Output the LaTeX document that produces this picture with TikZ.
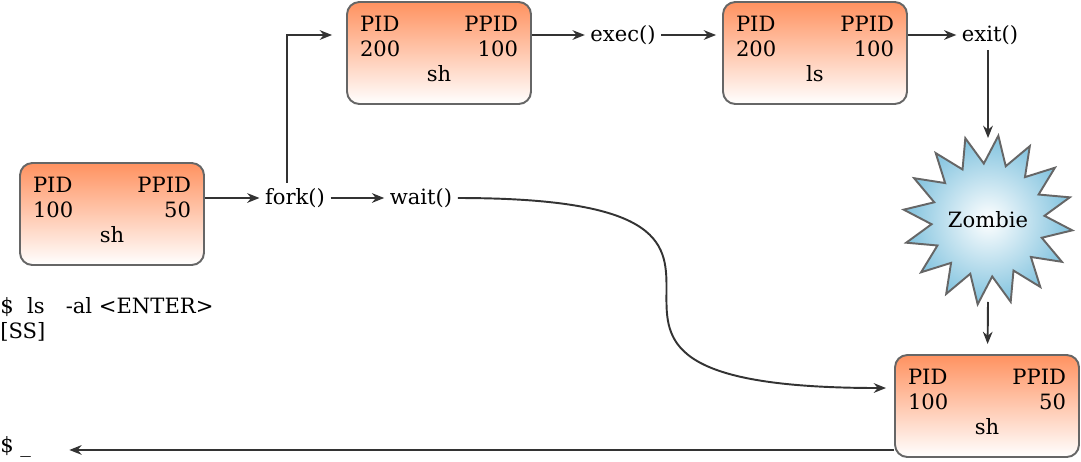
\documentclass[tikz,border=0pt]{standalone}
\usepackage{fontspec}
\setmainfont{DejaVu Serif}
\usepackage{tikz}
\usetikzlibrary{arrows.meta,shapes.geometric}
\definecolor{procorange}{RGB}{255,146,96}
\definecolor{zombieblue}{RGB}{128,194,222}
\definecolor{edgegray}{RGB}{102,102,102}
\definecolor{linkgray}{RGB}{51,51,51}
\newcommand{\procfont}{\fontsize{12}{14.2}\selectfont}
\newcommand{\procinfo}[3]{PID\hfill PPID\\#1\hfill #2\\\hfill #3\rule[-0.16cm]{0pt}{0pt}\hfill\null}

\begin{document}
\begin{tikzpicture}[x=0.02cm,y=-0.02cm]
\tikzstyle{every node}+=[font=\procfont]
\tikzstyle{proc}=[draw=edgegray, line width=1.1pt, rounded corners=7pt, top color=procorange, bottom color=white, text width=3.16cm, inner xsep=0.26cm, minimum height=2.04cm, align=left]
\tikzstyle{call}=[inner sep=3pt]
\tikzstyle{zombie}=[star, star points=16, star point ratio=1.5, shape border rotate=-7, minimum size=3.32cm, inner sep=0pt, draw=edgegray, line width=1.1pt, inner color=white, outer color=zombieblue]
\tikzstyle{link}=[draw=linkgray, line width=1.1pt, -{Stealth[length=7pt,width=5.5pt]}]
\useasboundingbox (0,0) rectangle (1081,461);
\node[proc] (shell) at (112,214) {\procinfo{100}{50}{sh}};
\node[proc] (child) at (439,53) {\procinfo{200}{100}{sh}};
\node[proc] (lsproc) at (815,53) {\procinfo{200}{100}{ls}};
\node[proc] (parent) at (987,406) {\procinfo{100}{50}{sh}};
\node[call] (fork) at (295,198) {fork()};
\node[call] (wait) at (421,198) {wait()};
\node[call] (exec) at (623,35) {exec()};
\node[call] (exit) at (990,35) {exit()};
\node[zombie] (zombie) at (988,220) {Zombie};
\node[anchor=north west, align=left, inner sep=0pt] (cmd) at (0,297) {\$\ \ ls\quad -al <ENTER>\\{[SS]}};
\node[anchor=base west, inner sep=0pt] (prompt) at (0,452) {\$ \_};
\coordinate (outgo) at ([yshift=0.16cm]parent.south west);
\draw[link] (shell.east |- fork) -- (fork);
\draw[link] (fork) -- (wait);
\draw[link, shorten >=0.28cm] ([xshift=-0.16cm]fork.north) |- (child.west |- exec);
\draw[link] (child.east |- exec) -- (exec);
\draw[link, shorten >=0.12cm] (exec) -- (lsproc.west |- exec);
\draw[link] (lsproc.east |- exit) -- (exit);
\draw[link] (zombie |- exit.south) -- ([yshift=1.64cm]zombie.center);
\draw[link, shorten >=0.2cm] ([yshift=-1.64cm]zombie.center) -- (parent);
\draw[link, shorten >=0.16cm] (wait.east) .. controls +(420,0) and +(-440,0) .. ([yshift=0.36cm]parent.west);
\draw[link, shorten >=0.76cm] (outgo) -- (outgo -| prompt.east);
\end{tikzpicture}
\end{document}
